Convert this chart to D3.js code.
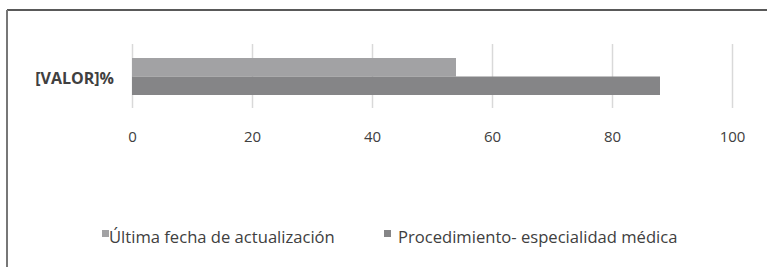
<!DOCTYPE html>
<html>
<head>
<meta charset="utf-8">
<script src="https://cdn.jsdelivr.net/npm/d3@7"></script>
<style>
  body { margin: 0; background: #fff; }
  text { font-family: "Open Sans", sans-serif; fill: #404040; }
</style>
</head>
<body>
<script>
// data
var categories = ["[VALOR]%"];
var seriesNames = ["Última fecha de actualización", "Procedimiento- especialidad médica"];
var seriesValues = [54, 88];
var seriesColors = ["#a2a2a4", "#858587"];
var tickValues = [0, 20, 40, 60, 80, 100];

var W = 767, H = 267;

var svg = d3.select("body").append("svg")
    .attr("width", W)
    .attr("height", H);

// outer frame (cropped at right and bottom)
svg.append("line")
  .attr("x1", 7).attr("x2", W).attr("y1", 10).attr("y2", 10)
  .attr("stroke", "#222").attr("stroke-width", 1.5);
svg.append("line")
  .attr("x1", 7).attr("x2", 7).attr("y1", 10).attr("y2", H)
  .attr("stroke", "#777").attr("stroke-width", 2);

var x = d3.scaleLinear()
    .domain([0, 100])
    .range([132, 732]);

var yCat = d3.scaleBand()
    .domain(categories)
    .range([44, 108]);

var ySer = d3.scaleBand()
    .domain(d3.range(seriesValues.length))
    .range([yCat(categories[0]) + 14, yCat(categories[0]) + 51]);

// gridlines
svg.append("g")
  .attr("transform", "translate(0,44)")
  .call(d3.axisBottom(x).tickValues(tickValues).tickSize(64).tickFormat(""))
  .call(function(g) { g.select(".domain").remove(); })
  .call(function(g) { g.selectAll("line").attr("stroke", "#d9d9d9").attr("stroke-width", 1.5); });

// bars
svg.selectAll("rect.bar")
  .data(seriesValues)
  .enter().append("rect")
  .attr("class", "bar")
  .attr("x", x(0))
  .attr("y", function(d, i) { return ySer(i); })
  .attr("width", function(d) { return x(d) - x(0); })
  .attr("height", ySer.bandwidth())
  .attr("fill", function(d, i) { return seriesColors[i]; });

// x tick labels
svg.append("g")
  .attr("transform", "translate(0,142)")
  .call(d3.axisBottom(x).tickValues(tickValues).tickSize(0).tickPadding(0))
  .call(function(g) { g.select(".domain").remove(); })
  .call(function(g) {
    g.selectAll("text")
      .attr("y", 0).attr("dy", 0)
      .attr("font-size", "15px")
      .attr("fill", "#404040")
      .style("font-family", "\"Open Sans\", sans-serif");
  });

// category label
svg.selectAll("text.cat")
  .data(categories)
  .enter().append("text")
  .attr("class", "cat")
  .attr("x", 114)
  .attr("y", function(d) { return yCat(d) + yCat.bandwidth() / 2 + 8; })
  .attr("text-anchor", "end")
  .attr("font-size", "16px")
  .attr("font-weight", "bold")
  .text(function(d) { return d; });

// legend
var legendX = [102, 384];
var legend = svg.selectAll("g.legend")
  .data(seriesNames)
  .enter().append("g")
  .attr("class", "legend")
  .attr("transform", function(d, i) { return "translate(" + legendX[i] + ",230)"; });

legend.append("rect")
  .attr("width", 7).attr("height", 7)
  .attr("fill", function(d, i) { return seriesColors[i]; });

legend.append("text")
  .attr("x", function(d, i) { return i === 0 ? 7 : 14; })
  .attr("y", 12.5)
  .attr("font-size", "16.6px")
  .text(function(d) { return d; });
</script>
</body>
</html>
